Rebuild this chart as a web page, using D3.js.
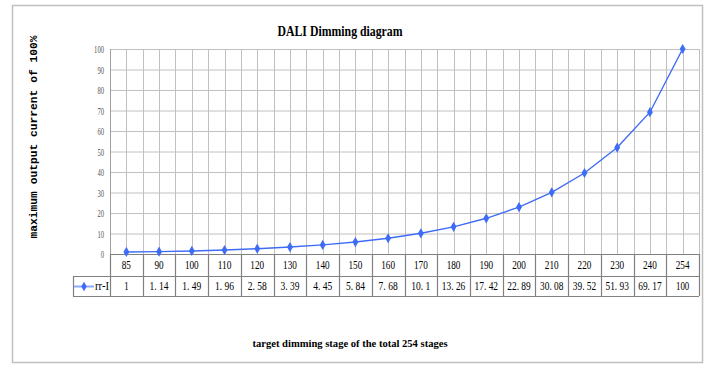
<!DOCTYPE html>
<html><head><meta charset="utf-8">
<script src="https://cdn.jsdelivr.net/npm/d3@7"></script>
<style>body{margin:0;background:#fff}svg{display:block}</style>
</head><body>
<script>
const categories = [85, 90, 100, 110, 120, 130, 140, 150, 160, 170, 180, 190, 200, 210, 220, 230, 240, 254];
const values = [1, 1.14, 1.49, 1.96, 2.58, 3.39, 4.45, 5.84, 7.68, 10.1, 13.26, 17.42, 22.89, 30.08, 39.52, 51.93, 69.17, 100];
const valueLabels = ["1", "1.14", "1.49", "1.96", "2.58", "3.39", "4.45", "5.84", "7.68", "10.1", "13.26", "17.42", "22.89", "30.08", "39.52", "51.93", "69.17", "100"];
const yTicks = [0, 10, 20, 30, 40, 50, 60, 70, 80, 90, 100];
const seriesName = "rr-I";
const title = "DALI Dimming diagram";
const yTitle = "maximum output current of 100%";
const xTitle = "target dimming stage of the total 254 stages";

const W = 719, H = 371;
const L = 110, R = 699, T = 49, B = 254;
const row1B = 276, row2B = 296, legL = 73;
const blue = "#3f6cf6";

const svg = d3.select("body").append("svg").attr("width", W).attr("height", H);
svg.append("rect").attr("width", W).attr("height", H).attr("fill", "#fff");
svg.append("rect").attr("x", 12.5).attr("y", 5.5).attr("width", 690).attr("height", 357)
  .attr("fill", "none").attr("stroke", "#c0c0c0").attr("stroke-width", 1.5);

const x = d3.scaleBand().domain(categories).range([L, R]).padding(0);
const y = d3.scaleLinear().domain([0, 100]).range([B, T]);
const bw = x.bandwidth();
const cx = c => x(c) + bw / 2;

function fitText(sel, per, dot) {
  sel.each(function(){
    const s = d3.select(this).text();
    let w = 0; for (const ch of s) w += (ch === "." ? (dot || per) : ch === " " ? per * 0.6 : per);
    d3.select(this).attr("textLength", w).attr("lengthAdjust", "spacingAndGlyphs");
  });
}

// vertical gridlines: band boundaries + centers
const vlines = [];
categories.forEach(c => { vlines.push(x(c)); vlines.push(cx(c)); });
vlines.push(R);
svg.append("g").selectAll("line").data(vlines).join("line")
  .attr("x1", d => Math.round(d) + 0.5).attr("x2", d => Math.round(d) + 0.5)
  .attr("y1", T).attr("y2", B).attr("stroke", "#c0c0c0").attr("stroke-width", 1);

// y axis with horizontal gridlines
const yAxis = svg.append("g").attr("transform", `translate(${L},0)`)
  .call(d3.axisLeft(y).tickValues(yTicks).tickSize(-(R - L)).tickPadding(6));
yAxis.select(".domain").remove();
yAxis.selectAll(".tick line").attr("stroke", "#c0c0c0");
yAxis.selectAll(".tick text")
  .attr("font-family", "'Liberation Serif', serif").attr("font-size", 11)
  .attr("fill", "#555").call(fitText, 3.3);
svg.append("line").attr("x1", L + 0.5).attr("x2", L + 0.5).attr("y1", T).attr("y2", B)
  .attr("stroke", "#a0a0a0");

// table
const tbl = svg.append("g").attr("stroke", "#808080").attr("stroke-width", 1.2).attr("fill", "none");
tbl.append("line").attr("x1", L).attr("x2", R).attr("y1", B + 0.5).attr("y2", B + 0.5);
tbl.append("line").attr("x1", legL).attr("x2", R).attr("y1", row1B + 0.5).attr("y2", row1B + 0.5);
tbl.append("line").attr("x1", legL).attr("x2", R).attr("y1", row2B + 0.5).attr("y2", row2B + 0.5);
tbl.append("line").attr("x1", legL + 0.5).attr("x2", legL + 0.5).attr("y1", row1B).attr("y2", row2B);
const bounds = categories.map(c => x(c)).concat([R]);
tbl.selectAll(".vb").data(bounds).join("line")
  .attr("x1", d => Math.round(d) + 0.5).attr("x2", d => Math.round(d) + 0.5)
  .attr("y1", B).attr("y2", row2B);

svg.append("g").selectAll("text").data(categories).join("text")
  .attr("x", d => cx(d)).attr("y", 269).attr("text-anchor", "middle")
  .attr("font-family", "'Liberation Serif', serif").attr("font-size", 12).attr("fill", "#000")
  .text(d => d).call(fitText, 4.6);

svg.append("g").selectAll("text").data(valueLabels).join("text")
  .attr("x", (d, i) => cx(categories[i])).attr("y", 290).attr("text-anchor", "middle")
  .attr("font-family", "'Liberation Serif', serif").attr("font-size", 12).attr("fill", "#000")
  .text(d => d.replace(".", ". ")).call(fitText, 4.4, 3.2);

// legend
svg.append("line").attr("x1", 74).attr("x2", 94).attr("y1", 286.5).attr("y2", 286.5)
  .attr("stroke", "#8fa8ff").attr("stroke-width", 2);
svg.append("path").attr("d", d3.symbol(d3.symbolDiamond, 26)())
  .attr("transform", "translate(84,286.5)").attr("fill", blue);
svg.append("text").attr("x", 95).attr("y", 290).attr("font-family", "'Liberation Serif', serif")
  .attr("font-size", 12).text(seriesName).call(fitText, 3.5);

// series line
svg.append("path").datum(values)
  .attr("d", d3.line().x((d, i) => cx(categories[i])).y(d => y(d)))
  .attr("fill", "none").attr("stroke", blue).attr("stroke-width", 1.4);
svg.append("g").selectAll("path").data(values).join("path")
  .attr("d", d3.symbol(d3.symbolDiamond, 30)())
  .attr("transform", (d, i) => `translate(${cx(categories[i])},${y(d)})`)
  .attr("fill", blue);

// titles
svg.append("text").attr("x", 340).attr("y", 36).attr("text-anchor", "middle")
  .attr("font-family", "'Liberation Serif', serif").attr("font-weight", "bold").attr("font-size", 15)
  .attr("textLength", 125).attr("lengthAdjust", "spacingAndGlyphs").text(title);

svg.append("text").attr("transform", "translate(37,137) rotate(-90)").attr("text-anchor", "middle")
  .attr("font-family", "'Liberation Mono', monospace").attr("font-weight", "bold").attr("font-size", 10)
  .attr("textLength", 203).attr("lengthAdjust", "spacingAndGlyphs").text(yTitle);

svg.append("text").attr("x", 350).attr("y", 347).attr("text-anchor", "middle")
  .attr("font-family", "'Liberation Serif', serif").attr("font-weight", "bold").attr("font-size", 11)
  .attr("textLength", 195).attr("lengthAdjust", "spacingAndGlyphs").text(xTitle);
</script>
</body></html>
